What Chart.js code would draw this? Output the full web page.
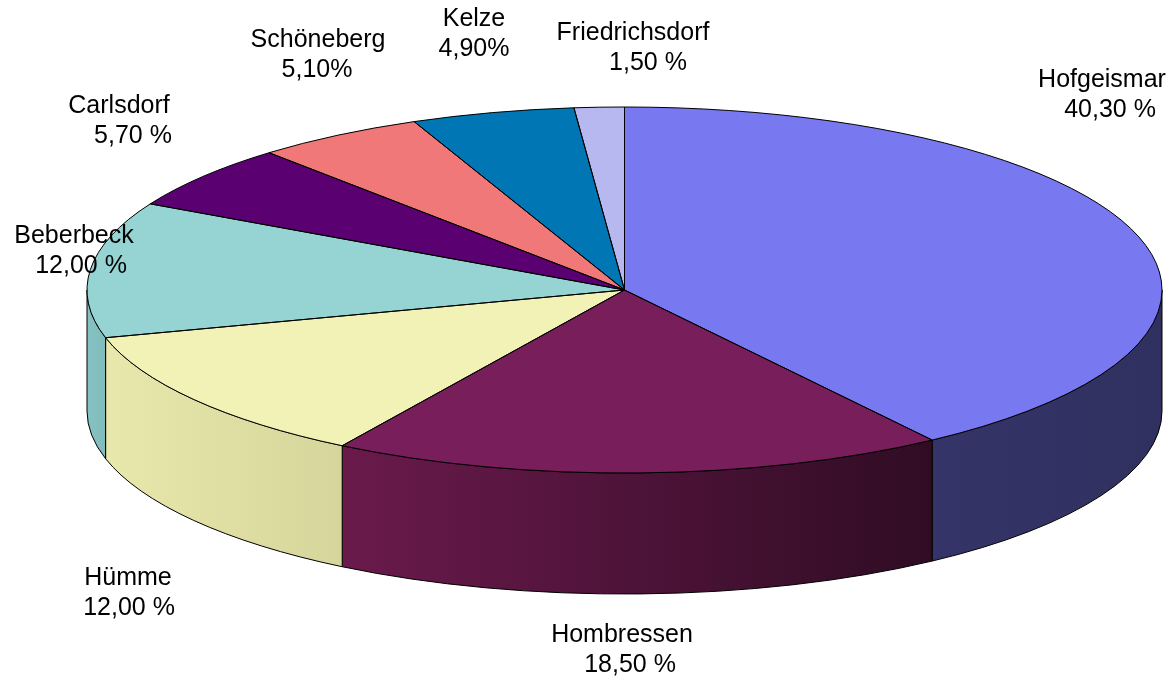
<!DOCTYPE html>
<html>
<head>
<meta charset="utf-8">
<script src="https://cdn.jsdelivr.net/npm/chart.js@4.4.1/dist/chart.umd.min.js"></script>
<style>
	html, body { margin: 0; padding: 0; background: #ffffff; }
	#wrap { width: 1176px; height: 678px; }
</style>
</head>
<body>
<div id="wrap"><canvas id="chart-pie" width="1176" height="678"></canvas></div>
<script>
// Data
const CATEGORIES = ["Hofgeismar", "Hombressen", "Hümme", "Beberbeck", "Carlsdorf", "Schöneberg", "Kelze", "Friedrichsdorf"];
const VALUES = [40.3, 18.5, 12.0, 12.0, 5.7, 5.1, 4.9, 1.5];
const PCT_SUFFIX = [" %", " %", " %", " %", " %", "%", "%", " %"];

// Colours: top face, side wall (left -> right shade)
const TOP_COLORS = ["#7878f0", "#781e5a", "#f2f2b6", "#96d4d4", "#5a0070", "#f07878", "#0076b4", "#b8b8f0"];
const WALL_LEFT = ["#343468", "#6a1a4c", "#e8e8ac", "#86c2c2", "#3c004a", "#a05050", "#004e78", "#7a7aa0"];
const WALL_RIGHT = ["#303060", "#300c24", "#d6d69c", "#80bcbc", "#3c004a", "#a05050", "#004e78", "#7a7aa0"];

// Label layout: [line 1 centre x, line 2 centre x, line 1 baseline]
const LABEL_POS = [
	[1102, 1110, 87],
	[622, 630, 642],
	[128, 129, 585],
	[74, 81, 243],
	[119, 133, 113],
	[318, 317, 47],
	[474, 474, 26],
	[633, 648, 40],
];

const DEPTH = 121;
const LINE_H = 30;
const FONT = '25px "Liberation Sans", Arial, sans-serif';

const CHART_WRAPPER = document.getElementById("chart-pie");

// ellipse geometry derived from the chart area
const ellipseOf = (chart) => {
	const { chartArea } = chart;
	return {
		cx: (chartArea.left + chartArea.right) / 2,
		cy: (chartArea.top + chartArea.bottom) / 2,
		rx: chartArea.width / 2,
		ry: chartArea.height / 2,
	};
};

const pie3d = {
	id: "pie3d",
	beforeDatasetsDraw(chart) {
		const ctx = chart.ctx;
		const { cx, cy, rx, ry } = ellipseOf(chart);
		const arcs = chart.getDatasetMeta(0).data;
		ctx.save();
		ctx.lineWidth = 1;
		ctx.strokeStyle = "#000000";
		arcs.forEach((arc, i) => {
			// only the front half of the rim is visible
			const a = Math.max(arc.startAngle, 0);
			const b = Math.min(arc.endAngle, Math.PI);
			if (a >= b) return;
			const xa = cx + rx * Math.cos(a);
			const xb = cx + rx * Math.cos(b);
			const g = ctx.createLinearGradient(Math.min(xa, xb), 0, Math.max(xa, xb), 0);
			g.addColorStop(0, WALL_LEFT[i]);
			g.addColorStop(1, WALL_RIGHT[i]);
			ctx.beginPath();
			ctx.ellipse(cx, cy, rx, ry, 0, a, b, false);
			ctx.ellipse(cx, cy + DEPTH, rx, ry, 0, b, a, true);
			ctx.closePath();
			ctx.fillStyle = g;
			ctx.fill();
			ctx.stroke();
		});
		ctx.restore();
	},
	beforeDatasetDraw(chart) {
		// squash the circular pie into the ellipse of the top face
		const ctx = chart.ctx;
		const arc = chart.getDatasetMeta(0).data[0];
		const { rx, ry } = ellipseOf(chart);
		ctx.save();
		ctx.translate(arc.x, arc.y);
		ctx.scale(rx / arc.outerRadius, ry / arc.outerRadius);
		ctx.translate(-arc.x, -arc.y);
	},
	afterDatasetDraw(chart) {
		chart.ctx.restore();
	},
	afterDatasetsDraw(chart) {
		const ctx = chart.ctx;
		const { cx, cy, rx, ry } = ellipseOf(chart);
		const arcs = chart.getDatasetMeta(0).data;
		ctx.save();
		ctx.lineWidth = 1;
		ctx.strokeStyle = "#000000";
		arcs.forEach((arc) => {
			ctx.beginPath();
			ctx.moveTo(cx, cy);
			ctx.ellipse(cx, cy, rx, ry, 0, arc.startAngle, arc.endAngle, false);
			ctx.closePath();
			ctx.stroke();
		});
		ctx.restore();
	},
	afterDraw(chart) {
		const ctx = chart.ctx;
		ctx.save();
		ctx.font = FONT;
		ctx.fillStyle = "#000000";
		ctx.textAlign = "center";
		ctx.textBaseline = "alphabetic";
		CATEGORIES.forEach((name, i) => {
			const [x1, x2, y1] = LABEL_POS[i];
			const pct = VALUES[i].toFixed(2).replace(".", ",") + PCT_SUFFIX[i];
			ctx.fillText(name, x1, y1);
			ctx.fillText(pct, x2, y1 + LINE_H);
		});
		ctx.restore();
	},
};

const CHART_CONFIG = {
	type: "pie",
	data: {
		labels: CATEGORIES,
		datasets: [
			{
				data: VALUES,
				backgroundColor: TOP_COLORS,
				borderWidth: 0,
				clip: false,
			},
		],
	},
	options: {
		responsive: false,
		devicePixelRatio: 1,
		animation: false,
		events: [],
		layout: {
			padding: { left: 87, right: 14, top: 107, bottom: 205 },
		},
		plugins: {
			legend: { display: false },
			tooltip: { enabled: false },
		},
	},
	plugins: [pie3d],
};

if (CHART_WRAPPER) {
	new Chart(CHART_WRAPPER, CHART_CONFIG);
}
</script>
</body>
</html>
